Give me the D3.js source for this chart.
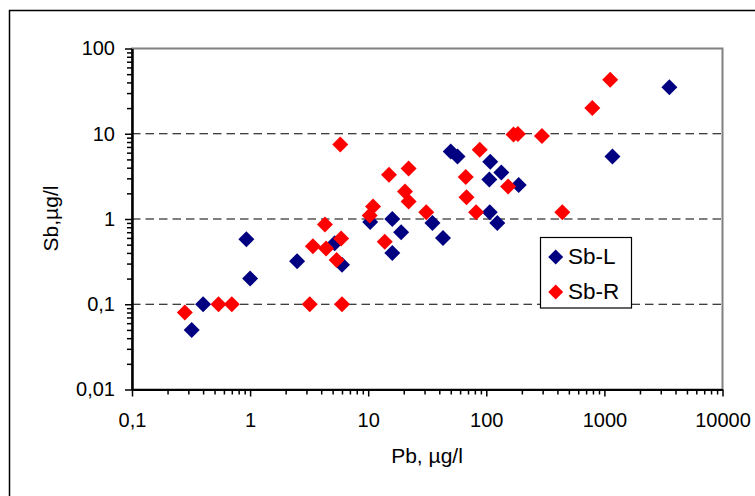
<!DOCTYPE html>
<html>
<head>
<meta charset="utf-8">
<script src="https://cdn.jsdelivr.net/npm/d3@7/dist/d3.min.js"></script>
<style>
html,body{margin:0;padding:0;background:#fff;}
svg{display:block;}
text{font-family:"Liberation Sans",Arial,sans-serif;fill:#000;}
</style>
</head>
<body>
<svg id="chart" width="755" height="496"></svg>
<script>
// Data (Pb, Sb) in µg/l
const sbL_pb = [0.32, 0.40, 0.93, 1.0, 2.5, 5.2, 6.0, 10.4, 16, 16, 19, 35, 43, 50, 57, 106, 107, 108, 124, 134, 188, 1170, 3550];
const sbL_sb = [0.05, 0.10, 0.58, 0.20, 0.32, 0.52, 0.29, 0.92, 0.40, 1.0, 0.70, 0.90, 0.60, 6.2, 5.4, 2.9, 1.2, 4.7, 0.90, 3.5, 2.5, 5.4, 35];
const sbR_pb = [0.28, 0.54, 0.70, 3.2, 3.4, 4.3, 4.4, 5.4, 5.8, 5.9, 6.0, 10.3, 11, 13.8, 15, 20.5, 22, 22, 31, 67, 68, 82, 88, 153, 170, 185, 296, 440, 790, 1120];
const sbR_sb = [0.08, 0.10, 0.10, 0.10, 0.48, 0.86, 0.45, 0.33, 7.5, 0.59, 0.10, 1.1, 1.4, 0.54, 3.3, 2.1, 1.6, 3.9, 1.2, 3.1, 1.8, 1.2, 6.5, 2.4, 9.8, 9.9, 9.4, 1.2, 20, 43];
const seriesNames = ["Sb-L", "Sb-R"];
const seriesColors = ["#000080", "#FF0000"];
const xTicks = [0.1, 1, 10, 100, 1000, 10000];
const xTickLabels = ["0,1", "1", "10", "100", "1000", "10000"];
const yTicks = [0.01, 0.1, 1, 10, 100];
const yTickLabels = ["0,01", "0,1", "1", "10", "100"];
const gridValues = [0.1, 1, 10];
const xTitle = "Pb, µg/l";
const yTitle = "Sb,µg/l";

const svg = d3.select("#chart");
const L = 132, R = 722.5, T = 48.5, B = 389.5;

const x = d3.scaleLog().domain([0.1, 10000]).range([L, R]);
const y = d3.scaleLog().domain([0.01, 100]).range([B, T]);

// outer frame
svg.append("rect").attr("x", 9.5).attr("y", 10.5).attr("width", 800).attr("height", 600)
  .attr("fill", "#fff").attr("stroke", "#000").attr("stroke-width", 1.5);

// plot area
svg.append("rect").attr("x", L).attr("y", T).attr("width", R - L).attr("height", B - T)
  .attr("fill", "#fff").attr("stroke", "#808080").attr("stroke-width", 2);

// gridlines
svg.append("g").selectAll("line").data(gridValues).join("line")
  .attr("x1", L).attr("x2", R)
  .attr("y1", d => y(d)).attr("y2", d => y(d))
  .attr("stroke", "#000").attr("stroke-width", 1.2).attr("stroke-dasharray", "8.5,5");

// minor tick values
function minors(lo, hi) {
  const out = [];
  for (let d = lo; d < hi; d *= 10) for (let k = 2; k <= 9; k++) out.push(d * k);
  return out;
}

// x axis
const xMinor = svg.append("g").attr("transform", `translate(0,${B})`)
  .call(d3.axisBottom(x).tickValues(minors(0.1, 10000)).tickFormat("").tickSize(5).tickSizeOuter(0));
const xMajor = svg.append("g").attr("transform", `translate(0,${B})`)
  .call(d3.axisBottom(x).tickValues(xTicks).tickFormat((d, i) => xTickLabels[i]).tickSize(7).tickSizeOuter(0).tickPadding(16));
// y axis
const yMinor = svg.append("g").attr("transform", `translate(${L},0)`)
  .call(d3.axisLeft(y).tickValues(minors(0.01, 100)).tickFormat("").tickSize(5).tickSizeOuter(0));
const yMajor = svg.append("g").attr("transform", `translate(${L},0)`)
  .call(d3.axisLeft(y).tickValues(yTicks).tickFormat((d, i) => yTickLabels[i]).tickSize(7).tickSizeOuter(0).tickPadding(10));

[xMinor, xMajor, yMinor, yMajor].forEach(g => {
  g.selectAll("path.domain").attr("stroke", "#000").attr("stroke-width", 2);
  g.selectAll(".tick line").attr("stroke", "#000").attr("stroke-width", 1.5);
  g.selectAll(".tick text").attr("font-size", 20).attr("font-family", '"Liberation Sans",Arial,sans-serif').attr("fill", "#000");
});

// axis titles
svg.append("text").attr("x", 427).attr("y", 463).attr("text-anchor", "middle")
  .attr("font-size", 21).text(xTitle);
svg.append("text").attr("transform", "translate(58,218.5) rotate(-90)").attr("text-anchor", "middle")
  .attr("font-size", 21).text(yTitle);

// points
const diamond = (s) => `M0,${-s}L${s},0L0,${s}L${-s},0Z`;
const seriesData = [
  sbL_pb.map((p, i) => ({ p, s: sbL_sb[i] })),
  sbR_pb.map((p, i) => ({ p, s: sbR_sb[i] }))
];
seriesData.forEach((data, si) => {
  svg.append("g").selectAll("path").data(data).join("path")
    .attr("d", diamond(8))
    .attr("transform", d => `translate(${x(d.p)},${y(d.s)})`)
    .attr("fill", seriesColors[si]);
});

// legend
const lg = svg.append("g");
lg.append("rect").attr("x", 540.5).attr("y", 237.5).attr("width", 91).attr("height", 70.5)
  .attr("fill", "#fff").attr("stroke", "#000").attr("stroke-width", 1.2);
seriesNames.forEach((n, i) => {
  const cy = 257 + i * 35;
  lg.append("path").attr("d", diamond(7.5)).attr("transform", `translate(555.7,${cy})`).attr("fill", seriesColors[i]);
  lg.append("text").attr("x", 568).attr("y", cy + 7).attr("font-size", 22.5).text(n);
});
</script>
</body>
</html>
